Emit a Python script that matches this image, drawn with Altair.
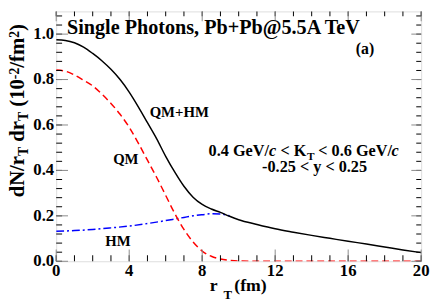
import altair as alt
import pandas as pd

# ---------------- data ----------------
r_total = [0, 0.5, 1, 1.5, 2, 2.5, 3, 3.5, 4, 4.5, 5, 5.5, 6, 6.5, 7, 7.5, 8, 8.5, 9, 9.5,
           10, 11, 12, 13, 14, 15, 16, 17, 18, 19, 20]
v_total = [0.975, 0.972, 0.962, 0.943, 0.915, 0.883, 0.845, 0.80, 0.745, 0.68, 0.61, 0.54,
           0.462, 0.392, 0.33, 0.282, 0.25, 0.23, 0.215, 0.198, 0.183, 0.162, 0.143, 0.128,
           0.114, 0.101, 0.088, 0.076, 0.063, 0.05, 0.038]

r_qm = [0, 0.5, 1, 1.5, 2, 2.5, 3, 3.5, 4, 4.5, 5, 5.5, 6, 6.5, 7, 7.5, 8, 8.5, 9, 9.5,
        10, 11, 12, 13, 14, 15, 16, 17, 18, 19, 20]
v_qm = [0.842, 0.837, 0.82, 0.797, 0.772, 0.736, 0.695, 0.647, 0.59, 0.52, 0.445, 0.37,
        0.29, 0.21, 0.14, 0.085, 0.045, 0.022, 0.01, 0.004, 0.001, 0, 0, 0, 0, 0, 0, 0, 0, 0, 0]

r_hm = [0, 1, 2, 3, 4, 5, 6, 6.5, 7, 7.5, 8, 8.5, 9, 9.5]
v_hm = [0.132, 0.135, 0.14, 0.147, 0.155, 0.166, 0.179, 0.186, 0.193, 0.2, 0.205, 0.209,
        0.208, 0.2]

x_major = [0, 4, 8, 12, 16, 20]
x_major_labels = ["0", "4", "8", "12", "16", "20"]
x_minor = [0, 1, 2, 3, 4, 5, 6, 7, 8, 9, 10, 11, 12, 13, 14, 15, 16, 17, 18, 19, 20]
y_major = [0, 0.2, 0.4, 0.6, 0.8, 1.0]
y_major_labels = ["0.0", "0.2", "0.4", "0.6", "0.8", "1.0"]
y_minor = [0, 0.04, 0.08, 0.12, 0.16, 0.2, 0.24, 0.28, 0.32, 0.36, 0.4, 0.44, 0.48, 0.52,
           0.56, 0.6, 0.64, 0.68, 0.72, 0.76, 0.8, 0.84, 0.88, 0.92, 0.96, 1.0, 1.04, 1.08]

curve_labels = ["QM+HM", "QM", "HM"]
curve_label_r = [5.12, 3.12, 2.69]
curve_label_v = [0.636, 0.43, 0.067]

title_text = "Single Photons, Pb+Pb@5.5A TeV"
panel_text = "(a)"
cut_line2 = "-0.25 < y < 0.25"

# ---------------- layout ----------------
W, H = 371, 254
FONT = "Liberation Serif"
GRAY = "#8a8a8a"

df_total = pd.DataFrame({"r": r_total, "v": v_total})
df_qm = pd.DataFrame({"r": r_qm, "v": v_qm})
df_hm = pd.DataFrame({"r": r_hm, "v": v_hm})

xs = alt.Scale(domain=[0, 20], nice=False, zero=False)
ys = alt.Scale(domain=[0, 1.1], nice=False, zero=False)


def enc(chart):
    return chart.encode(
        x=alt.X("r:Q", scale=xs, axis=None),
        y=alt.Y("v:Q", scale=ys, axis=None),
    )


def line_layer(df, color, dash=None):
    kw = dict(color=color, strokeWidth=1.5, interpolate="monotone", clip=True)
    if dash is not None:
        kw["strokeDash"] = dash
    return enc(alt.Chart(df).mark_line(**kw))


# inward ticks on all four sides (tick marks placed through the shared scales)
def xticks(values, ymid, length, color):
    d = pd.DataFrame({"xt": values})
    return alt.Chart(d).mark_tick(color=color, orient="vertical", size=length,
                                  thickness=1, opacity=1).encode(
        x=alt.X("xt:Q", scale=xs, axis=None), y=alt.value(ymid))


def yticks(values, xmid, length, color):
    d = pd.DataFrame({"yt": values})
    return alt.Chart(d).mark_tick(color=color, orient="horizontal", size=length,
                                  thickness=1, opacity=1).encode(
        y=alt.Y("yt:Q", scale=ys, axis=None), x=alt.value(xmid))


# tick labels, placed through the same scales
df_xl = pd.DataFrame({"xt": x_major, "s": x_major_labels})
df_yl = pd.DataFrame({"yt": y_major, "s": y_major_labels})
xlabels = alt.Chart(df_xl).mark_text(font=FONT, fontWeight="bold", fontSize=17,
                                     align="center", baseline="top", color="black").encode(
    x=alt.X("xt:Q", scale=xs, axis=None), y=alt.value(H + 2), text="s:N")
ylabels = alt.Chart(df_yl).mark_text(font=FONT, fontWeight="bold", fontSize=17,
                                     align="right", baseline="middle", color="black").encode(
    y=alt.Y("yt:Q", scale=ys, axis=None), x=alt.value(-2), text="s:N")

layers = [
    line_layer(df_hm, "#0000ff", [8, 3, 2, 3]),
    line_layer(df_qm, "#ff0000", [7, 4]),
    line_layer(df_total, "black"),
    xticks(x_minor, H - 3, 6, "black"),
    xticks(x_minor, 2.5, 5, "black"),
    yticks(y_minor, 3, 6, "black"),
    yticks(y_minor, W - 2.5, 5, "black"),
    xticks(x_major, H - 6, 12, GRAY),
    xticks(x_major, 5, 10, GRAY),
    yticks(y_major, 6, 12, GRAY),
    yticks(y_major, W - 5, 10, GRAY),
    xlabels,
    ylabels,
]

# curve labels (data coordinates)
df_lab = pd.DataFrame({"r": curve_label_r, "v": curve_label_v, "t": curve_labels})
layers.append(enc(alt.Chart(df_lab).mark_text(font=FONT, fontWeight="bold", fontSize=15,
                                               align="left", baseline="alphabetic",
                                               color="black")).encode(text="t:N"))


def text_at(txt, r, v, size=16, align="left", dx=0, dy=0, style="normal"):
    d = pd.DataFrame({"r": [r], "v": [v], "t": [txt]})
    return enc(alt.Chart(d).mark_text(font=FONT, fontWeight="bold", fontStyle=style,
                                      fontSize=size, align=align, baseline="alphabetic",
                                      dx=dx, dy=dy, color="black")).encode(text="t:N")


layers.append(text_at(title_text, 0.59, 1.002, size=20.5))
layers.append(text_at(panel_text, 16.42, 0.914, size=16))

# kinematic cut, line 1 (pieces with sub-script and italic c)
L1R, L1V = 8.35, 0.463
layers += [
    text_at("0.4 GeV/", L1R, L1V, 16.5, dx=0),
    text_at("c", L1R, L1V, 16.5, dx=61.5, style="italic"),
    text_at("< K", L1R, L1V, 16.5, dx=73),
    text_at("T", L1R, L1V, 11.5, dx=100, dy=4),
    text_at("< 0.6 GeV/", L1R, L1V, 16.5, dx=111.5),
    text_at("c", L1R, L1V, 16.5, dx=186, style="italic"),
    text_at(cut_line2, 14.16, 0.392, 16.5, align="center"),
]


# axis titles built from pieces (pixel layout relative to the plot)
def piece(txt, px, py, size, angle=0):
    d = pd.DataFrame({"t": [txt]})
    kw = dict(font=FONT, fontWeight="bold", fontSize=size, align="left",
              baseline="alphabetic", color="black")
    if angle:
        kw["angle"] = angle
    return alt.Chart(d).mark_text(**kw).encode(
        x=alt.value(px), y=alt.value(py), text="t:N")


TOP = 9  # absolute page y of the plot top
layers += [
    piece("r", 156, 293 - TOP, 18),
    piece("T", 170, 301 - TOP, 13),
    piece("(fm)", 181, 293 - TOP, 18),
]

XM, XS, XP = -33, -29, -38
ytitle = [("dN/r", XM, 198, 21), ("T", XS, 156, 14), ("dr", XM, 141.4, 21),
          ("T", XS, 120.4, 14), ("(10", XM, 105.9, 21), ("-2", XP, 77.9, 14),
          ("/fm", XM, 66.2, 21), ("2", XP, 35.9, 14), (")", XM, 28.9, 21)]
for t, px, ay, sz in ytitle:
    layers.append(piece(t, px, ay - TOP, sz, angle=270))

chart = (
    alt.layer(*layers)
    .properties(width=W, height=H, autosize=alt.AutoSizeParams(type="none"),
                padding={"left": 49, "top": 1, "right": 10, "bottom": 42})
    .configure_view(stroke="black", strokeWidth=1)
    .configure(background="white")
)

chart.save("out.html", embed_options={"renderer": "svg", "actions": False})
